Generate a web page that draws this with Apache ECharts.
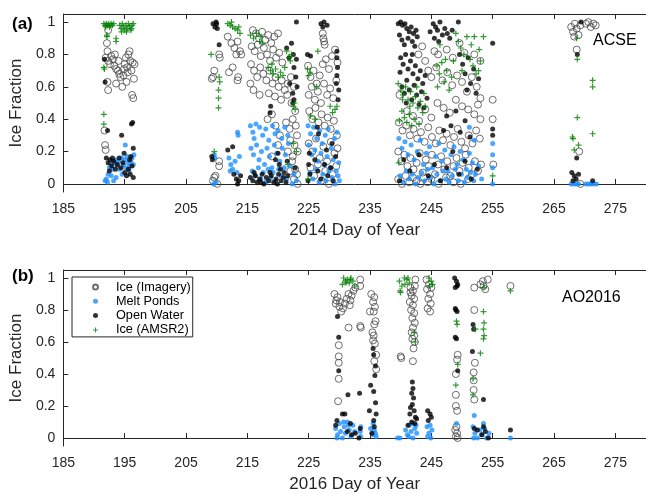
<!DOCTYPE html>
<html>
<head>
<meta charset="utf-8">
<script src="https://cdn.jsdelivr.net/npm/echarts@6/dist/echarts.min.js"></script>
<style>
html,body{margin:0;padding:0;background:#fff;}
#chart{width:646px;height:494px;}
</style>
</head>
<body>
<div id="chart"></div>
<script>
const xTicks = [185,195,205,215,225,235,245,255,265,275];
const yTicks = [0,0.2,0.4,0.6,0.8,1];
const seriesNames = ['Ice (Imagery)','Melt Ponds','Open Water','Ice (AMSR2)'];
const panelLabels = ['(a)','(b)'];
const campaignLabels = ['ACSE','AO2016'];
const axisTitles = ['2014 Day of Year','2016 Day of Year'];

// ---------- Panel (a): 2014 ----------
const iceImagery2014 = [
[192.3,0.95],[192.1,0.87],[192.2,0.82],[191.9,0.78],[192.3,0.76],[192.8,0.79],[193.1,0.77],[193.3,0.73],[193.6,0.71],[193.9,0.70],[194.1,0.68],[194.3,0.66],[193.6,0.62],[192.2,0.63],[192.3,0.58],[194.6,0.60],[194.8,0.67],[195.0,0.74],[195.2,0.78],[195.4,0.72],[195.6,0.80],[195.9,0.76],[196.1,0.70],[196.3,0.75],[196.5,0.65],[196.2,0.55],[196.4,0.53],[195.5,0.69],[194.9,0.71],[195.8,0.82],[196.6,0.74],[192.6,0.74],[193.4,0.80],[191.7,0.33],[191.8,0.24],[191.9,0.21],[194.0,0.76],[195.3,0.63],
[209.4,0.02],[209.8,0.05],[210.1,0.0],[209.6,0.04],[210.4,0.14],[210.4,0.11],[210.4,0.80],[210.5,0.78],[209.6,0.70],[209.4,0.66],[209.2,0.65],
[211.8,0.91],[212.4,0.87],[212.9,0.84],[213.4,0.88],[213.8,0.82],[214.0,0.80],[213.2,0.80],[212.0,0.69],[212.6,0.72],[213.4,0.64],[213.5,0.66],
[215.9,0.95],[216.4,0.93],[216.9,0.90],[217.4,0.94],[217.9,0.89],[218.4,0.92],[218.9,0.87],[219.4,0.91],[220.0,0.93],
[215.7,0.85],[216.2,0.82],[216.7,0.86],[217.2,0.79],[217.7,0.84],[218.2,0.80],[218.7,0.76],[219.2,0.83],[219.7,0.78],[220.2,0.81],[220.7,0.75],
[215.6,0.74],[216.1,0.70],[216.6,0.66],[217.1,0.72],[217.6,0.68],[218.1,0.64],[218.6,0.70],[219.1,0.62],[219.6,0.66],[220.1,0.60],[220.6,0.64],[221.1,0.58],[221.6,0.62],[222.1,0.66],[222.6,0.60],
[215.5,0.62],[216.0,0.58],[217.0,0.55],[218.5,0.56],[219.5,0.54],[220.5,0.52],[221.5,0.55],[222.2,0.50],[222.8,0.45],
[218.3,0.40],[219.0,0.43],[219.6,0.36],[220.3,0.30],[221.3,0.38],[221.9,0.34],[222.4,0.40],[222.9,0.36],[223.1,0.30],[222.0,0.27],[222.7,0.24],[223.2,0.20],[221.6,0.20],[222.4,0.17],
[222.3,0.14],[222.8,0.09],[223.1,0.06],[222.6,0.03],[223.2,0.0],[222.0,0.08],[219.0,0.17],[220.0,0.24],
[227.3,0.93],[227.5,0.88],[227.4,0.90],[227.6,0.86],
[224.9,0.73],[225.3,0.66],[225.8,0.70],[226.3,0.62],[226.8,0.67],[227.3,0.74],[227.8,0.77],[228.3,0.71],[228.8,0.79],[229.3,0.83],[229.7,0.75],
[225.0,0.55],[225.5,0.60],[226.0,0.52],[226.5,0.57],[227.0,0.50],[227.5,0.62],[228.0,0.55],[228.5,0.59],[229.0,0.53],[229.5,0.64],
[225.1,0.45],[225.6,0.40],[226.1,0.47],[226.6,0.38],[227.1,0.43],[227.6,0.36],[228.1,0.41],[228.6,0.34],[229.1,0.39],[229.6,0.30],
[225.0,0.25],[225.6,0.20],[226.2,0.28],[226.8,0.16],[227.4,0.23],[228.0,0.14],[228.6,0.26],[229.2,0.19],[229.7,0.22],
[225.3,0.10],[225.9,0.05],[226.5,0.12],[227.1,0.02],[227.7,0.08],[228.3,0.0],[228.9,0.06],[229.5,0.11],
[242.9,0.80],[243.5,0.85],[244.0,0.76],[245.5,0.82],[246.1,0.80],[247.5,0.83],[248.5,0.78],[249.6,0.87],[250.4,0.81],[252.0,0.80],[253.0,0.76],
[244.5,0.70],[245.0,0.66],[245.8,0.72],[246.8,0.64],[247.6,0.69],[248.4,0.61],[249.2,0.67],[250.0,0.63],[250.8,0.57],[251.6,0.66],[252.4,0.60],[253.0,0.53],
[239.8,0.55],[241.0,0.45],[242.0,0.42],[243.0,0.39],[244.0,0.46],[245.0,0.41],[246.0,0.50],[247.0,0.47],[248.0,0.44],[249.0,0.52],[250.0,0.48],[251.0,0.46],[252.0,0.43],[253.0,0.40],[252.6,0.49],
[239.7,0.38],[240.3,0.33],[240.9,0.36],[241.5,0.30],[242.1,0.34],[242.7,0.28],[243.3,0.32],[243.9,0.26],[244.5,0.35],[245.1,0.29],[245.7,0.25],[246.3,0.33],[246.9,0.27],[247.5,0.31],[248.1,0.24],[248.7,0.29],[249.3,0.34],[249.9,0.26],[250.5,0.22],[251.1,0.30],[251.7,0.25],[252.3,0.33],[252.9,0.28],
[239.6,0.20],[240.1,0.14],[240.6,0.18],[241.1,0.11],[241.6,0.16],[242.1,0.09],[242.6,0.13],[243.1,0.19],[243.6,0.07],[244.1,0.15],[244.6,0.11],[245.1,0.18],[245.6,0.06],[246.1,0.12],[246.6,0.17],[247.1,0.09],[247.6,0.14],[248.1,0.05],[248.6,0.11],[249.1,0.16],[249.6,0.08],[250.1,0.13],[250.6,0.18],[251.1,0.10],[251.6,0.06],[252.1,0.14],[252.6,0.08],[253.1,0.12],
[239.6,0.03],[240.2,0.0],[240.8,0.05],[241.4,0.01],[242.0,0.04],[242.6,0.02],[243.2,0.0],[243.8,0.04],[244.4,0.01],[245.0,0.03],[246.2,0.0],[247.4,0.04],[248.6,0.01],[249.8,0.0],[251.0,0.03],
[255.0,0.52],[255.0,0.40],[255.1,0.12],
[267.8,0.97],[268.1,0.94],[268.4,0.99],[268.7,0.96],[269.0,0.92],[269.3,0.98],[268.3,0.91],[270.2,0.99],[270.6,1.0],[271.0,0.97],[271.4,0.99],[271.8,0.98],[268.7,0.83],[269.1,0.20],[269.3,0.0]
];
const meltPonds2014 = [
[191.8,0.02],[192.0,0.03],[192.2,0.01],[192.3,0.06],[192.5,0.10],[192.7,0.12],[193.0,0.09],[193.3,0.13],[193.5,0.15],[193.8,0.11],[194.0,0.14],[194.2,0.09],[194.5,0.16],[194.8,0.12],[195.0,0.15],[195.2,0.10],[195.4,0.17],[195.6,0.13],[195.8,0.11],[196.0,0.14],[196.2,0.16],[196.4,0.12],[196.5,0.18],[194.6,0.06],[193.6,0.04],[192.8,0.05],[195.1,0.24],[193.2,0.02],[195.7,0.08],
[209.6,0.18],[209.7,0.16],[209.5,0.0],[209.9,0.01],[213.4,0.32],[213.5,0.30],
[212.0,0.16],[212.3,0.12],[212.6,0.09],[213.0,0.14],[213.3,0.07],[213.7,0.17],[212.2,0.08],
[215.5,0.36],[215.9,0.32],[216.4,0.37],[216.1,0.28],[217.0,0.35],[217.5,0.30],[218.0,0.34],[218.5,0.27],[219.1,0.36],[219.5,0.31],[220.0,0.33],[220.6,0.28],[221.1,0.35],[221.6,0.30],
[215.6,0.22],[216.0,0.18],[216.5,0.24],[216.9,0.15],[217.3,0.20],[217.8,0.12],[218.2,0.22],[218.6,0.17],[219.0,0.10],[219.4,0.24],[219.8,0.19],[220.3,0.14],[220.7,0.22],[221.2,0.18],[221.7,0.25],[222.0,0.11],
[215.8,0.08],[216.3,0.05],[216.8,0.10],[217.2,0.03],[217.6,0.07],[218.0,0.01],[218.4,0.09],[218.8,0.04],[219.2,0.07],[219.6,0.02],[220.1,0.09],[220.5,0.05],[221.0,0.10],[221.4,0.03],[222.3,0.0],[222.6,0.06],[223.0,0.02],
[224.9,0.36],[225.3,0.31],[225.8,0.35],[226.3,0.28],[226.8,0.33],[227.2,0.25],[227.7,0.30],[228.2,0.34],[228.7,0.22],[229.2,0.28],[229.6,0.32],
[225.0,0.24],[225.5,0.18],[226.0,0.21],[226.5,0.14],[227.0,0.19],[227.5,0.12],[228.0,0.17],[228.5,0.10],[229.0,0.15],[229.5,0.08],[229.9,0.13],
[225.2,0.07],[225.7,0.03],[226.2,0.09],[226.7,0.01],[227.3,0.06],[227.8,0.02],[228.3,0.08],[228.8,0.04],[229.3,0.0],[229.8,0.05],[230.0,0.02],
[239.7,0.28],[240.2,0.22],[240.7,0.26],[241.2,0.18],[241.7,0.24],[242.2,0.15],[242.7,0.20],[243.2,0.27],[243.7,0.12],[244.2,0.19],[244.7,0.23],[245.2,0.10],[245.7,0.17],[246.2,0.25],[246.7,0.14],[247.2,0.21],[247.7,0.08],[248.2,0.18],[248.7,0.23],[249.2,0.12],[249.7,0.20],[250.2,0.15],[250.7,0.09],[251.2,0.19],[251.7,0.13],[252.2,0.06],[252.7,0.11],[253.2,0.03],
[239.9,0.05],[240.4,0.01],[240.9,0.08],[241.4,0.03],[241.9,0.06],[242.4,0.0],[242.9,0.04],[243.4,0.07],[243.9,0.02],[244.4,0.09],[244.9,0.04],[245.4,0.0],[245.9,0.06],[246.4,0.02],[246.9,0.08],[247.4,0.03],[247.9,0.01],[248.4,0.05],[248.9,0.09],[249.4,0.02],[249.9,0.06],[250.4,0.01],[250.9,0.04],[251.4,0.07],[251.9,0.02],
[251.2,0.35],[252.0,0.27],[255.0,0.25],[255.0,0.18],[255.0,0.10],[255.0,0.0],
[267.8,0.0],[268.2,0.0],[268.6,0.0],[269.0,0.0],[270.2,0.0],[270.6,0.0],[271.0,0.0],[271.4,0.0],[271.9,0.0]
];
const openWater2014 = [
[191.7,0.77],[191.8,0.63],[192.2,0.33],[194.5,0.30],[196.1,0.37],[196.3,0.38],[196.4,0.22],[192.0,0.16],[192.3,0.13],[192.6,0.15],[192.9,0.11],[193.2,0.14],[193.5,0.09],[193.8,0.12],[194.1,0.16],[194.4,0.10],[194.7,0.13],[195.0,0.07],[195.3,0.05],[195.6,0.09],[195.9,0.06],[196.2,0.11],[196.4,0.04],[192.5,0.08],[193.0,0.16],[195.8,0.15],[196.0,0.17],[194.9,0.19],
[209.4,0.99],[209.7,0.97],[210.0,0.99],[210.1,0.96],[209.9,1.0],[210.4,0.86],[223.0,1.0],[209.3,0.15],[209.2,0.17],[211.8,0.21],[212.6,0.23],
[212.8,0.06],[213.2,0.03],[213.6,0.02],[213.9,0.05],[213.4,0.0],
[215.5,0.04],[215.9,0.02],[216.3,0.05],[216.6,0.01],[217.0,0.03],[217.4,0.06],[217.7,0.0],[218.1,0.04],[218.5,0.02],[218.9,0.05],[219.3,0.01],[219.7,0.03],[220.1,0.06],[220.5,0.02],[220.9,0.04],[221.3,0.01],[221.6,0.05],[216.1,0.07],[217.2,0.01],[218.7,0.07],[219.9,0.0],[221.0,0.07],
[218.7,0.44],[218.8,0.48],
[221.4,0.84],[221.8,0.78],[222.2,0.87],[222.6,0.72],[222.9,0.66],[223.1,0.60],[222.4,0.56],[221.9,0.62],[222.5,0.80],[223.0,0.77],[222.4,0.50],[222.6,0.52],
[220.0,0.19],[220.2,0.12],[220.4,0.09],[219.6,0.15],[221.5,0.14],[222.8,0.10],
[224.8,0.80],[225.3,0.79],[227.0,0.99],[227.3,0.97],[227.5,1.0],[228.0,0.98],
[229.6,0.82],[229.6,0.78],[229.7,0.72],[229.6,0.67],[229.5,0.62],[229.9,0.58],[229.8,0.52],[226.4,0.35],[226.6,0.31],
[225.1,0.19],[225.0,0.12],[225.2,0.06],[224.9,0.02],
[226.0,0.15],[226.5,0.08],[227.0,0.03],[227.6,0.12],[228.1,0.05],[228.6,0.10],[229.0,0.02],[229.4,0.17],[227.9,0.21],[228.8,0.25],
[239.6,0.99],[240.0,1.0],[240.3,0.98],[240.7,0.99],[241.0,0.96],[241.4,0.94],[241.7,0.97],[242.1,0.93],[242.5,0.95],[239.8,0.92],[240.2,0.89],[240.6,0.86],[241.2,0.90],[241.9,0.88],[242.3,0.85],[242.7,0.91],
[244.8,0.94],[245.3,0.99],[245.7,0.97],[246.0,0.95],[246.4,1.0],[246.8,0.92],[247.2,0.96],[247.6,0.93],[248.0,0.90],[248.4,0.95],[249.4,1.0],[245.5,0.90],[246.2,0.88],
[240.0,0.78],[240.4,0.74],[240.8,0.80],[241.2,0.71],[241.6,0.76],[242.0,0.68],[242.4,0.73],[242.8,0.65],[243.2,0.70],[243.6,0.62],[244.0,0.67],[240.2,0.60],[240.6,0.56],[241.0,0.64],[241.4,0.58],[241.8,0.52],[242.2,0.61],[242.6,0.55],[243.0,0.49],[243.4,0.57],[243.8,0.47],[244.3,0.53],[239.9,0.69],[241.9,0.80],[240.9,0.50],
[249.6,0.80],[250.1,0.74],[250.5,0.68],[251.0,0.78],[251.4,0.62],[251.9,0.71],[252.3,0.56],[252.7,0.65],[250.8,0.58],
[255.0,0.87],[255.0,0.34],[255.0,0.30],
[247.5,0.42],[248.2,0.36],[249.0,0.45],[249.7,0.32],[250.5,0.39],[251.3,0.29],[247.0,0.33],
[240.5,0.15],[241.5,0.08],[243.0,0.18],[244.5,0.05],[245.5,0.12],[246.5,0.02],[247.5,0.10],[248.5,0.20],[249.5,0.06],[250.5,0.14],[251.5,0.03],[252.5,0.09],[239.8,0.02],
[269.4,1.0],[268.8,0.80],[268.7,0.16],[267.9,0.07],[268.3,0.05],[268.6,0.03],[269.0,0.06],[268.1,0.02],[271.3,0.02]
];
const iceAmsr2014 = [
[191.6,0.99],[191.8,0.98],[192.0,0.99],[192.2,0.98],[192.4,0.99],[192.6,0.98],[192.8,0.99],[193.0,0.98],[193.2,0.99],[191.9,0.97],[192.5,0.97],[194.2,0.98],[194.4,0.96],[194.6,0.99],[194.8,0.97],[195.0,0.95],[195.2,0.98],[195.4,0.96],[195.6,0.99],[195.8,0.97],[196.0,0.95],[196.2,0.98],[196.4,0.99],[194.5,0.94],[195.3,0.94],[196.1,0.96],[192.1,0.92],[192.1,0.91],[193.6,0.90],[193.6,0.88],[191.6,0.72],[191.7,0.71],[191.6,0.43],[191.6,0.37],
[211.8,0.99],[212.2,0.98],[212.6,0.97],[213.0,0.96],[213.4,0.95],[213.8,0.93],[212.4,1.0],[213.6,0.97],[209.1,0.80],
[210.4,0.66],[210.5,0.63],[210.3,0.58],[210.3,0.53],[210.3,0.47],
[215.5,0.92],[216.0,0.90],[216.5,0.93],[217.0,0.88],[217.5,0.87],[217.2,0.91],
[218.4,0.72],[218.8,0.70],[219.2,0.68],[219.6,0.71],[220.0,0.66],[220.4,0.69],[220.8,0.67],[221.1,0.72],[219.0,0.74],
[221.4,0.82],[221.8,0.78],[222.2,0.80],[222.0,0.76],[222.7,0.50],[222.8,0.46],[222.5,0.48],
[224.8,0.71],[225.0,0.67],[225.2,0.69],[226.5,0.82],[228.5,0.48],[228.9,0.44],[229.3,0.46],[229.6,0.48],
[209.6,0.20],[221.6,0.12],[222.5,0.25],[223.0,0.20],[225.3,0.42],[226.0,0.40],[224.9,0.03],[226.3,0.60],
[246.4,0.86],[249.0,0.93],[249.4,0.88],[249.8,0.84],[250.3,0.80],[250.8,0.91],[251.3,0.77],[251.8,0.73],[252.3,0.68],[252.8,0.83],[251.5,0.86],[252.0,0.91],[253.0,0.76],[252.7,0.70],[250.0,0.70],
[239.6,0.62],[240.0,0.58],[240.4,0.55],[240.8,0.60],[241.2,0.52],[241.6,0.57],[242.0,0.50],[242.4,0.54],[242.8,0.47],[243.2,0.51],[243.6,0.44],[244.0,0.48],[240.2,0.45],[240.6,0.41],[241.0,0.38],[241.4,0.43],[241.8,0.36],[242.2,0.40],[243.0,0.37],[239.8,0.39],[240.3,0.52],[241.5,0.48],[242.6,0.60],[243.8,0.56],
[245.9,0.73],[246.3,0.68],[246.7,0.75],[247.1,0.63],[247.5,0.70],[247.9,0.58],[248.3,0.66],[248.6,0.76],[246.0,0.60],[247.3,0.77],
[253.5,0.91],[239.7,0.13],[255.0,0.05],
[268.7,0.90],[268.8,0.77],[271.3,0.64],[271.3,0.60],[268.8,0.41],[268.0,0.29],[268.1,0.28],[271.3,0.31],[269.0,0.24],[268.3,0.21]
];

// ---------- Panel (b): 2016 ----------
const iceImagery2016 = [
[233.4,0.99],[233.4,0.95],
[229.2,0.90],[229.5,0.86],[229.7,0.88],[230.0,0.82],[230.3,0.79],[230.6,0.81],[230.9,0.84],[231.2,0.87],[231.5,0.90],[231.8,0.86],[232.0,0.89],[232.3,0.92],[232.6,0.94],[231.7,0.83],[230.1,0.85],[229.4,0.84],
[231.5,0.69],[233.4,0.70],[233.5,0.69],[229.9,0.58],[229.9,0.51],[229.9,0.47],[229.9,0.37],[229.8,0.23],
[235.2,0.90],[235.7,0.88],[235.5,0.85],[235.8,0.82],[235.0,0.79],[235.6,0.79],[235.9,0.73],[235.7,0.71],[235.4,0.66],[235.6,0.64],[235.8,0.59],[236.0,0.52],[235.7,0.48],[236.0,0.43],[235.5,0.61],
[242.4,0.99],[241.6,0.94],[242.0,0.92],[241.8,0.89],[242.2,0.87],[241.5,0.85],[242.0,0.83],[241.7,0.80],[242.2,0.78],[241.9,0.75],[242.3,0.72],[242.0,0.69],[241.8,0.66],[242.2,0.64],[241.9,0.62],[242.3,0.60],[242.1,0.56],[241.6,0.91],[242.3,0.95],
[240.0,0.51],[240.1,0.50],[242.0,0.48],
[244.2,0.99],[244.6,0.96],[244.3,0.93],[244.8,0.90],[244.5,0.87],[244.9,0.84],[244.4,0.81],[244.8,0.79],[245.0,0.94],
[249.3,0.52],[249.2,0.49],[249.0,0.40],[249.0,0.27],[249.0,0.20],[249.2,0.17],[249.1,0.07],[248.9,0.05],[249.2,0.03],[249.0,0.01],[249.3,0.0],
[252.0,0.94],[253.0,0.96],[253.4,0.98],[253.8,0.93],[254.2,0.99],[253.5,0.95],[252.0,0.80],[252.1,0.47],[251.9,0.41],[251.9,0.36],[251.9,0.30],[252.0,0.24],
[257.9,0.95]
];
const meltPonds2016 = [
[229.4,0.06],[229.7,0.02],[230.0,0.09],[230.2,0.04],[230.5,0.0],[230.8,0.07],[231.0,0.03],[231.3,0.10],[231.6,0.05],[231.9,0.01],[232.2,0.08],[232.5,0.04],[229.6,0.0],[231.5,0.08],[230.7,0.10],
[233.5,0.07],[233.5,0.01],[233.4,0.04],
[235.1,0.06],[235.4,0.02],[235.7,0.05],[236.0,0.01],[235.5,0.09],[235.9,0.03],
[239.5,0.0],[239.9,0.0],[240.8,0.05],[241.1,0.02],[241.4,0.08],[241.7,0.04],[242.0,0.0],[242.3,0.06],[242.6,0.03],[241.3,0.01],[241.9,0.09],[242.5,0.08],
[244.3,0.07],[244.6,0.03],[244.9,0.0],[245.1,0.05],[244.4,0.01],[244.8,0.08],
[249.1,0.09],[252.0,0.14],
[251.8,0.07],[252.1,0.03],[252.5,0.0],[252.9,0.05],[253.3,0.02],[253.7,0.06],[254.0,0.0],[254.4,0.03],[251.9,0.0],[253.5,0.09],
[257.9,0.0]
];
const openWater2016 = [
[229.7,0.76],[229.9,0.63],[229.9,0.42],[231.4,0.27],[233.3,0.28],[230.5,0.15],[230.9,0.15],[229.6,0.11],[229.4,0.08],[231.3,0.04],[232.0,0.02],[232.6,0.03],[233.2,0.0],[233.4,0.06],[231.8,0.09],
[235.5,0.56],[235.6,0.52],[235.9,0.45],[235.8,0.39],[235.1,0.33],[235.6,0.29],[235.9,0.22],[234.9,0.17],[236.0,0.15],[235.6,0.11],[235.7,0.07],[235.3,0.03],
[241.9,0.35],[242.0,0.31],[241.8,0.28],[242.1,0.25],[241.9,0.21],[241.6,0.19],[242.2,0.17],[241.5,0.15],[242.4,0.13],[241.8,0.10],[242.3,0.09],[242.6,0.12],[241.2,0.08],
[244.4,0.17],[244.8,0.15],[244.5,0.11],[245.0,0.13],
[248.8,1.0],[249.1,0.98],[249.3,0.96],[248.9,0.94],[249.2,0.95],[248.9,0.81],[249.2,0.79],[249.0,0.80],[248.9,0.63],[249.1,0.62],[249.3,0.42],
[251.8,0.71],[251.9,0.68],[251.7,0.54],[253.5,0.24],[252.0,0.06],[252.5,0.05],[253.2,0.02],[253.8,0.04],[254.3,0.0],[253.5,0.07],
[257.9,0.05]
];
const iceAmsr2016 = [
[230.7,1.0],[231.0,0.98],[231.3,0.99],[231.6,0.97],[231.9,1.0],[232.2,0.98],[231.1,0.97],[231.8,0.99],[230.5,0.96],[232.5,0.95],
[239.8,0.98],[240.2,0.95],[240.6,1.0],[241.0,0.99],[241.4,0.97],[239.9,0.92],[240.7,0.96],[241.2,1.0],[240.0,0.91],
[242.4,0.60],[242.2,0.66],
[244.6,1.0],[245.0,0.98],[245.2,0.96],[244.7,0.95],
[249.1,0.73],[249.2,0.71],[249.3,0.46],[249.0,0.33],
[253.6,0.94],[253.5,0.79],[253.6,0.72],[253.5,0.68],[253.6,0.64],[253.5,0.62],[252.2,0.68],[253.0,0.53],[251.8,0.37],[251.8,0.27],
[257.9,0.92]
];

const FONT = '"Liberation Sans", Arial, Helvetica, sans-serif';
const AXC = '#262626';
const PLUS = 'path://M2,0L3,0L3,2L5,2L5,3L3,3L3,5L2,5L2,3L0,3L0,2L2,2Z';

const styles = [
  {symbol:'circle', symbolSize:7, itemStyle:{color:'rgba(0,0,0,0)', borderColor:'#4a4a4a', borderWidth:1}},
  {symbol:'circle', symbolSize:5, itemStyle:{color:'#1E90FF'}},
  {symbol:'circle', symbolSize:5, itemStyle:{color:'#000000'}},
  {symbol:PLUS, symbolSize:6, itemStyle:{color:'#008000'}}
];
const panelData = [
  [iceImagery2014, meltPonds2014, openWater2014, iceAmsr2014],
  [iceImagery2016, meltPonds2016, openWater2016, iceAmsr2016]
];

const grids = [
  {left:61, top:14, width:594, height:178},
  {left:61, top:270, width:594, height:177}
];

const xAxes = [], yAxes = [], series = [];
grids.forEach((g, i) => {
  xAxes.push({
    type:'value', gridIndex:i, position:'bottom', min:185, max:280,
    name:axisTitles[i], nameLocation:'middle', nameGap:30,
    nameTextStyle:{fontFamily:FONT, fontSize:17, color:AXC},
    axisLine:{show:true, lineStyle:{color:AXC, width:1}},
    axisTick:{show:true, inside:true, length:5, customValues:xTicks, lineStyle:{color:AXC}},
    axisLabel:{show:true, customValues:xTicks, margin:10, fontFamily:FONT, fontSize:14, color:AXC},
    splitLine:{show:false}
  });
  xAxes.push({
    type:'value', gridIndex:i, position:'top', min:185, max:280,
    axisLine:{show:true, lineStyle:{color:AXC, width:1}},
    axisTick:{show:true, inside:true, length:5, customValues:xTicks, lineStyle:{color:AXC}},
    axisLabel:{show:false},
    splitLine:{show:false}
  });
  yAxes.push({
    type:'value', gridIndex:i, min:-0.05, max:1.05,
    name:'Ice Fraction', nameLocation:'middle', nameGap:33, nameRotate:90,
    nameTextStyle:{fontFamily:FONT, fontSize:17, color:AXC},
    axisLine:{show:true, lineStyle:{color:AXC, width:1}},
    axisTick:{show:true, inside:true, length:5, customValues:yTicks, lineStyle:{color:AXC}},
    axisLabel:{show:true, customValues:yTicks, margin:8, fontFamily:FONT, fontSize:14, color:AXC},
    splitLine:{show:false}
  });
  panelData[i].forEach((d, k) => {
    series.push(Object.assign({
      type:'scatter', name:seriesNames[k], xAxisIndex:i*2, yAxisIndex:i,
      data:d, silent:true, emphasis:{disabled:true}
    }, JSON.parse(JSON.stringify(styles[k]))));
  });
});

const chart = echarts.init(document.getElementById('chart'), null, {renderer:'canvas'});
chart.setOption({
  animation:false,
  backgroundColor:'#ffffff',
  grid:grids,
  xAxis:xAxes,
  yAxis:yAxes,
  series:series,
  legend:{
    data:seriesNames, orient:'vertical', left:72, top:277,
    selectedMode:false, itemWidth:5, itemHeight:5, itemGap:0.3,
    padding:[3,2,0,20], borderColor:'#262626', borderWidth:1, backgroundColor:'#fff',
    textStyle:{fontFamily:FONT, fontSize:12.7, color:'#000', lineHeight:14, padding:[0,0,0,13]}
  },
  graphic:[
    {type:'text', left:12, top:16, style:{text:panelLabels[0], font:'bold 17px '+FONT, fill:'#000'}},
    {type:'text', left:12, top:268, style:{text:panelLabels[1], font:'bold 17px '+FONT, fill:'#000'}},
    {type:'text', left:593, top:33, style:{text:campaignLabels[0], font:'16px '+FONT, fill:'#000'}},
    {type:'text', left:562, top:290, style:{text:campaignLabels[1], font:'16px '+FONT, fill:'#000'}}
  ]
});
</script>
</body>
</html>
